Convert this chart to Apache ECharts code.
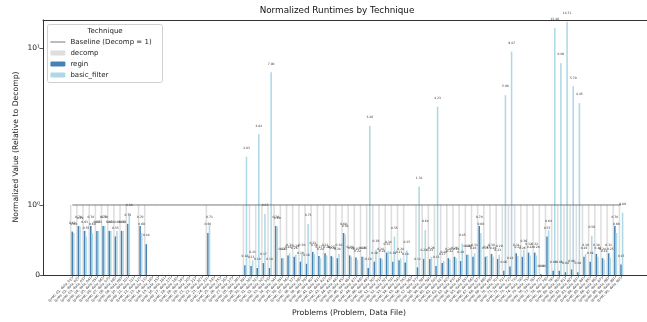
<!DOCTYPE html>
<html>
<head>
<meta charset="utf-8">
<script src="https://cdn.jsdelivr.net/npm/echarts@6/dist/echarts.min.js"></script>
<style>
  html, body { margin: 0; padding: 0; background: #fff; }
  #main { width: 647px; height: 322px; }
</style>
</head>
<body>
<div id="main"></div>
<script>
// categories (problem, data file)
const problems = Array.from({ length: 90 }, (_, i) => '(prob_' + String(i + 1).padStart(2, '0') + ', data_' + String(i + 1).padStart(2, '0') + ')');

// normalized runtimes (decomp = 1), null = no data
const regin = [
  0.62, 0.70, 0.63, 0.70, 0.63, 0.70, 0.63, 0.55, 0.63, 0.73,
  null, 0.70, 0.44, null, null, null, null, null, null, null,
  null, null, 0.60, null, null, null, null, null, 0.14, 0.13,
  0.10, 0.17, 0.10, 0.70, 0.24, 0.28, 0.26, 0.19, 0.16, 0.33,
  0.27, 0.31, 0.27, 0.24, 0.60, 0.28, 0.25, 0.26, 0.10, 0.19,
  0.24, 0.32, 0.19, 0.21, 0.18, null, 0.11, 0.23, 0.23, 0.13,
  0.17, 0.24, 0.26, 0.20, 0.29, 0.26, 0.70, 0.26, 0.30, 0.23,
  0.06, 0.12, 0.31, 0.26, 0.32, 0.32, 0.01, 0.55, 0.06, 0.06,
  0.04, 0.08, 0.04, 0.26, 0.19, 0.30, 0.24, 0.31, 0.70, 0.15
];
const basicFilter = [
  0.60, 0.69, 0.55, 0.60, 0.63, 0.70, 0.63, 0.63, 0.63, 0.88,
  null, 0.60, null, null, null, null, null, null, null, null,
  null, null, 0.71, null, null, null, null, null, 2.03, 0.21,
  2.82, 0.87, 7.00, 0.69, 0.24, 0.31, 0.29, 0.30, 0.73, 0.30,
  0.24, 0.28, 0.26, 0.30, 0.58, 0.26, 0.22, 0.26, 3.20, 0.36,
  0.22, 0.34, 0.55, 0.24, 0.35, null, 1.31, 0.64, 0.26, 4.23,
  0.20, 0.22, 0.24, 0.45, 0.29, 0.31, 0.60, 0.27, 0.26, 0.29,
  5.00, 9.47, 0.27, 0.36, 0.28, 0.28, 0.00, 0.64, 13.40, 8.00,
  14.71, 5.70, 4.45, 0.30, 0.56, 0.26, 0.22, 0.25, 0.60, 0.89
];
const decomp = regin.map(v => (v == null ? null : 1));

// symlog-like axis: linear below 1, log above
const LIN = 0.446;
const YMAX = 1.624;
function tf(v) {
  if (v == null) return null;
  return v <= 1 ? v * LIN : LIN + Math.log10(v);
}
const yTicks = [0, LIN, LIN + 1];
const yTickLabels = ['0', '10⁰', '10¹'];

const font = 'DejaVu Sans';
const spine = { show: true, lineStyle: { color: '#333', width: 1 } };
const chart = echarts.init(document.getElementById('main'));

function barLabel(src) {
  return {
    show: true,
    position: 'top',
    distance: 7,
    fontSize: 3,
    fontFamily: font,
    color: '#333',
    formatter: p => (src[p.dataIndex] == null ? '' : src[p.dataIndex].toFixed(2))
  };
}

chart.setOption({
  animation: false,
  grid: [
    // axes frame: right side runs past the picture
    { left: 43, top: 20, width: 610, bottom: 47 },
    { left: 69.2, top: 20, width: 554.9, bottom: 47 }
  ],
  xAxis: [
    { gridIndex: 0, type: 'value', min: 0, max: 1, position: 'bottom', axisLine: spine, axisTick: { show: false }, axisLabel: { show: false }, splitLine: { show: false } },
    {
      gridIndex: 1, type: 'category', data: problems,
      axisLine: { show: false },
      axisTick: { show: true, length: 2.5, alignWithLabel: true, lineStyle: { color: '#444', width: 0.6 } },
      axisLabel: { interval: 0, rotate: 45, fontSize: 3.5, fontFamily: font, color: '#333', margin: 3 }
    },
    { gridIndex: 0, type: 'value', min: 0, max: 1, position: 'top', axisLine: spine, axisTick: { show: false }, axisLabel: { show: false }, splitLine: { show: false } }
  ],
  yAxis: [
    {
      gridIndex: 0, type: 'value', min: 0, max: YMAX,
      axisLine: spine,
      splitLine: { show: false },
      axisTick: { show: true, length: 3.5, customValues: yTicks, lineStyle: { color: '#333', width: 0.8 } },
      axisLabel: {
        customValues: yTicks, fontSize: 7.5, fontFamily: font, color: '#222', margin: 3,
        formatter: v => {
          const i = yTicks.findIndex(t => Math.abs(t - v) < 1e-6);
          return i < 0 ? '' : yTickLabels[i];
        }
      }
    },
    { gridIndex: 1, type: 'value', min: 0, max: YMAX, show: false }
  ],
  legend: {
    orient: 'vertical',
    left: 50,
    top: 38,
    itemWidth: 15,
    itemHeight: 5,
    itemGap: 3,
    padding: 0,
    textStyle: { fontSize: 7, fontFamily: font, color: '#222', lineHeight: 8 },
    data: [
      { name: 'Baseline (Decomp = 1)', itemStyle: { opacity: 0 }, lineStyle: { width: 0.8, color: '#555' } },
      'decomp', 'regin', 'basic_filter'
    ]
  },
  graphic: [
    { type: 'rect', shape: { x: 47.5, y: 24.5, width: 115, height: 58, r: 2 }, style: { fill: 'rgba(255,255,255,0.8)', stroke: '#d0d0d0', lineWidth: 1 }, z: -1, silent: true },
    { type: 'text', x: 105, y: 31, style: { text: 'Technique', fontSize: 7, fontFamily: font, fill: '#222', align: 'center', verticalAlign: 'middle' } },
    { type: 'text', x: 337, y: 11, style: { text: 'Normalized Runtimes by Technique', fontSize: 8.8, fontFamily: font, fill: '#111', align: 'center', verticalAlign: 'middle' } },
    { type: 'text', x: 349, y: 313, style: { text: 'Problems (Problem, Data File)', fontSize: 7.7, fontFamily: font, fill: '#222', align: 'center', verticalAlign: 'middle' } },
    { type: 'text', x: 16, y: 147, rotation: Math.PI / 2, style: { text: 'Normalized Value (Relative to Decomp)', fontSize: 7.7, fontFamily: font, fill: '#222', align: 'center', verticalAlign: 'middle' } }
  ],
  series: [
    {
      name: 'Baseline (Decomp = 1)', type: 'line', xAxisIndex: 1, yAxisIndex: 1,
      data: problems.map(() => LIN), symbol: 'none', silent: true, z: 5,
      lineStyle: { color: '#555', width: 0.8 }, itemStyle: { color: '#555' }
    },
    {
      name: 'decomp', type: 'bar', xAxisIndex: 1, yAxisIndex: 1,
      data: decomp.map(tf), barWidth: 1.55, barGap: '0%',
      itemStyle: { color: '#d3d3d3', opacity: 0.75 }
    },
    {
      name: 'regin', type: 'bar', xAxisIndex: 1, yAxisIndex: 1,
      data: regin.map(tf), barWidth: 1.55, barGap: '0%',
      itemStyle: { color: '#4682b4' }, label: barLabel(regin)
    },
    {
      name: 'basic_filter', type: 'bar', xAxisIndex: 1, yAxisIndex: 1,
      data: basicFilter.map(tf), barWidth: 1.55, barGap: '0%',
      itemStyle: { color: '#add8e6' }, label: barLabel(basicFilter)
    }
  ]
});
</script>
</body>
</html>
